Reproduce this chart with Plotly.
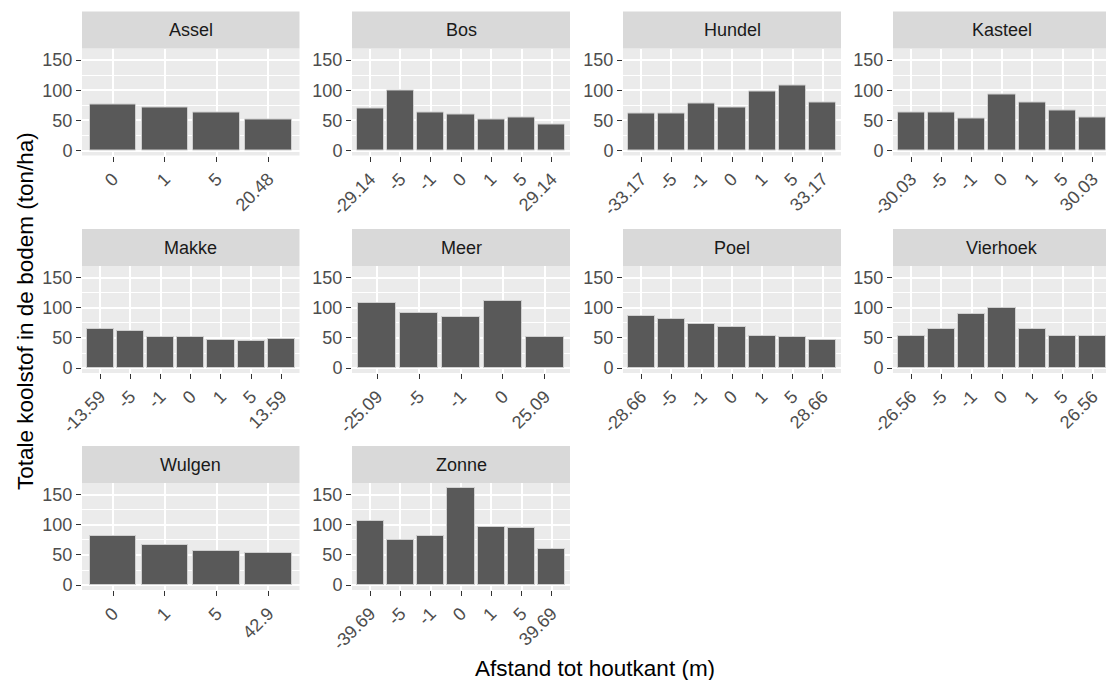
import plotly.graph_objects as go

# ---- data: total soil carbon (ton/ha) per distance to the wood edge (m) ----
sites = ["Assel", "Bos", "Hundel", "Kasteel", "Makke",
         "Meer", "Poel", "Vierhoek", "Wulgen", "Zonne"]

assel_afstand = ["0", "1", "5", "20.48"]
assel_koolstof = [76, 72, 63, 51]

bos_afstand = ["-29.14", "-5", "-1", "0", "1", "5", "29.14"]
bos_koolstof = [70, 100, 63, 59, 51, 55, 44]

hundel_afstand = ["-33.17", "-5", "-1", "0", "1", "5", "33.17"]
hundel_koolstof = [61, 61, 78, 72, 98, 108, 80]

kasteel_afstand = ["-30.03", "-5", "-1", "0", "1", "5", "30.03"]
kasteel_koolstof = [63, 63, 53, 93, 80, 66, 55]

makke_afstand = ["-13.59", "-5", "-1", "0", "1", "5", "13.59"]
makke_koolstof = [64, 62, 51, 51, 47, 45, 49]

meer_afstand = ["-25.09", "-5", "-1", "0", "25.09"]
meer_koolstof = [107, 92, 85, 111, 51]

poel_afstand = ["-28.66", "-5", "-1", "0", "1", "5", "28.66"]
poel_koolstof = [87, 81, 73, 68, 54, 51, 47]

vierhoek_afstand = ["-26.56", "-5", "-1", "0", "1", "5", "26.56"]
vierhoek_koolstof = [54, 64, 90, 99, 64, 54, 54]

wulgen_afstand = ["0", "1", "5", "42.9"]
wulgen_koolstof = [82, 67, 56, 54]

zonne_afstand = ["-39.69", "-5", "-1", "0", "1", "5", "39.69"]
zonne_koolstof = [106, 74, 82, 161, 97, 95, 59]

y_ticks = [0, 50, 100, 150]

panels = [
    (sites[0], assel_afstand, assel_koolstof),
    (sites[1], bos_afstand, bos_koolstof),
    (sites[2], hundel_afstand, hundel_koolstof),
    (sites[3], kasteel_afstand, kasteel_koolstof),
    (sites[4], makke_afstand, makke_koolstof),
    (sites[5], meer_afstand, meer_koolstof),
    (sites[6], poel_afstand, poel_koolstof),
    (sites[7], vierhoek_afstand, vierhoek_koolstof),
    (sites[8], wulgen_afstand, wulgen_koolstof),
    (sites[9], zonne_afstand, zonne_koolstof),
]

# ---- page geometry (pixels) ----
W, H = 1106, 680
COLS = [(82, 299.5), (352, 570), (623, 841), (893, 1111)]   # panel left/right
ROWS = [(48.5, 155.5), (266, 373), (483, 590)]              # panel top/bottom
STRIP_H = 37

FONT = "Liberation Sans, Arial, sans-serif"
TICK_FONT = dict(family=FONT, size=18, color="#4D4D4D")

def fx(px):
    return px / W

def fy(py):
    return 1 - py / H

ymax = max(max(v) for _, _, v in panels)
y_range = [-0.05 * ymax, 1.05 * ymax]

fig = go.Figure()
shapes = []
annotations = []
layout_axes = {}

for i, (site, cats, vals) in enumerate(panels):
    r, c = divmod(i, 4)
    left, right_full = COLS[c]
    top, bottom = ROWS[r]
    n = len(cats)
    ppu = (right_full - left) / (n + 0.2)
    right = min(right_full, W)
    x_hi = -0.6 + (right - left) / ppu

    k = "" if i == 0 else str(i + 1)
    fig.add_trace(go.Bar(
        x=cats, y=vals, width=0.9,
        xaxis="x" + k, yaxis="y" + k,
        marker=dict(color="#595959", line=dict(color="#CFCFCF", width=1)),
        showlegend=False, hoverinfo="x+y",
    ))

    layout_axes["xaxis" + k] = dict(
        domain=[fx(left), fx(right)], anchor="y" + k, automargin=False,
        type="category", categoryorder="array", categoryarray=cats,
        range=[-0.6, x_hi], showgrid=True, gridcolor="white", gridwidth=1.6,
        zeroline=False, showline=False,
        ticks="outside", ticklen=5, tickwidth=1.2, tickcolor="#333333",
        tickangle=-45, tickfont=TICK_FONT, fixedrange=True,
    )
    layout_axes["yaxis" + k] = dict(
        domain=[fy(bottom), fy(top)], anchor="x" + k, automargin=False,
        range=y_range, tickvals=y_ticks, ticktext=[str(t) for t in y_ticks],
        showgrid=True, gridcolor="white", gridwidth=1.6,
        minor=dict(tickvals=[25, 75, 125], showgrid=True,
                   gridcolor="white", gridwidth=0.8, ticks=""),
        zeroline=False, showline=False,
        ticks="outside", ticklen=5, tickwidth=1.2, tickcolor="#333333",
        tickfont=TICK_FONT, fixedrange=True,
    )

    # facet strip
    shapes.append(dict(
        type="rect", xref="paper", yref="paper",
        x0=fx(left), x1=fx(right), y0=fy(top), y1=fy(top - STRIP_H),
        fillcolor="#D9D9D9", line=dict(width=0), layer="below",
    ))
    annotations.append(dict(
        text=site, xref="paper", yref="paper",
        x=fx((left + right_full) / 2), y=fy(top - STRIP_H / 2),
        xanchor="center", yanchor="middle", showarrow=False,
        font=dict(family=FONT, size=18, color="#1A1A1A"),
    ))

# axis titles
annotations.append(dict(
    text="Afstand tot houtkant (m)", xref="paper", yref="paper",
    x=fx(595), y=fy(668), xanchor="center", yanchor="middle",
    showarrow=False, font=dict(family=FONT, size=22.5, color="black"),
))
annotations.append(dict(
    text="Totale koolstof in de bodem (ton/ha)", xref="paper", yref="paper",
    x=fx(26), y=fy(311), xanchor="center", yanchor="middle", textangle=-90,
    showarrow=False, font=dict(family=FONT, size=22.5, color="black"),
))

fig.update_layout(
    width=W, height=H,
    margin=dict(l=0, r=0, t=0, b=0, autoexpand=False),
    paper_bgcolor="white", plot_bgcolor="#EBEBEB",
    shapes=shapes, annotations=annotations,
    bargap=0, **layout_axes,
)

fig.write_html("out.html", config=dict(displayModeBar=False))
